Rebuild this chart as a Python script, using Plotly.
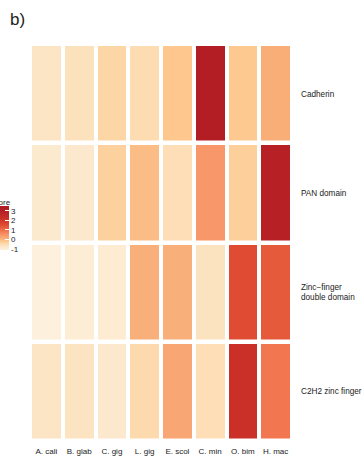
import plotly.graph_objects as go

# Species (columns) and protein domains (rows)
species = ["A. cali", "B. glab", "C. gig", "L. gig", "E. scol", "C. min", "O. bim", "H. mac"]
domains = ["Cadherin", "PAN domain", "Zinc\u2212finger<br>double domain", "C2H2 zinc finger"]

# Row-scaled abundance (Z-score) per domain
cadherin = [-0.70, -0.62, -0.40, -0.52, -0.15, 3.10, -0.18, 0.10]
pan_domain = [-0.85, -0.82, -0.32, -0.05, -0.55, 0.45, -0.28, 2.90]
zinc_double = [-1.05, -0.95, -0.90, 0.08, 0.08, -0.65, 1.50, 1.30]
c2h2_zinc = [-0.70, -0.66, -0.82, -0.48, 0.22, -0.55, 2.20, 0.88]

z_values = [cadherin, pan_domain, zinc_double, c2h2_zinc]
legend_ticks = [-1, 0, 1, 2, 3]

zmin, zmax = -1.1, 3.5
stops = [
    (-1.1, "#FDF2DF"),
    (-0.7, "#FCE5C5"),
    (-0.4, "#FDD6A6"),
    (-0.15, "#FDC78E"),
    (0.1, "#F9AD77"),
    (0.5, "#F79468"),
    (1.0, "#F06E4A"),
    (1.5, "#E04C33"),
    (2.2, "#CA3028"),
    (3.0, "#B41F26"),
    (3.5, "#AE1A22"),
]
colorscale = [[(v - zmin) / (zmax - zmin), c] for v, c in stops]

W, H = 364, 457
ml, mr, mt, mb = 29.7, 72.3, 44, 16
pw, ph = W - ml - mr, H - mt - mb

def px_x(px):
    return (px - ml) / pw

def px_y(py):
    return 1 - (py - mt) / ph

font = "Liberation Sans, Arial, sans-serif"

fig = go.Figure(
    go.Heatmap(
        z=z_values,
        x=species,
        y=domains,
        zmin=zmin,
        zmax=zmax,
        colorscale=colorscale,
        xgap=4,
        ygap=4.5,
        hoverongaps=False,
        colorbar=dict(
            thicknessmode="pixels",
            thickness=14,
            lenmode="pixels",
            len=44,
            x=px_x(-5),
            xanchor="left",
            xpad=0,
            y=px_y(228),
            yanchor="middle",
            ypad=0,
            outlinewidth=0,
            tickvals=legend_ticks,
            ticktext=[str(t) for t in legend_ticks],
            ticks="inside",
            ticklen=4,
            tickwidth=1,
            tickcolor="white",
            tickfont=dict(family=font, size=8, color="#222"),
        ),
    )
)

fig.update_layout(
    width=W,
    height=H,
    margin=dict(l=ml, r=mr, t=mt, b=mb, autoexpand=False),
    paper_bgcolor="white",
    plot_bgcolor="white",
    font=dict(family=font, size=8, color="#222"),
    xaxis=dict(
        showgrid=False,
        zeroline=False,
        showline=False,
        ticks="",
        automargin=False,
        ticklabelstandoff=4,
        tickfont=dict(family=font, size=8, color="#222"),
    ),
    yaxis=dict(
        side="right",
        autorange="reversed",
        showgrid=False,
        zeroline=False,
        showline=False,
        ticks="",
        automargin=False,
        ticklabelstandoff=8,
        tickfont=dict(family=font, size=8.2, color="#222"),
    ),
    annotations=[
        dict(
            text="b)",
            xref="paper",
            yref="paper",
            x=px_x(8),
            y=px_y(8),
            xanchor="left",
            yanchor="top",
            showarrow=False,
            font=dict(family=font, size=17, color="#222"),
        ),
        dict(
            text="Z-score",
            xref="paper",
            yref="paper",
            x=px_x(12.5),
            y=px_y(202),
            xanchor="right",
            yanchor="middle",
            showarrow=False,
            font=dict(family=font, size=8, color="#222"),
        ),
    ],
)

fig.write_html("out.html")
